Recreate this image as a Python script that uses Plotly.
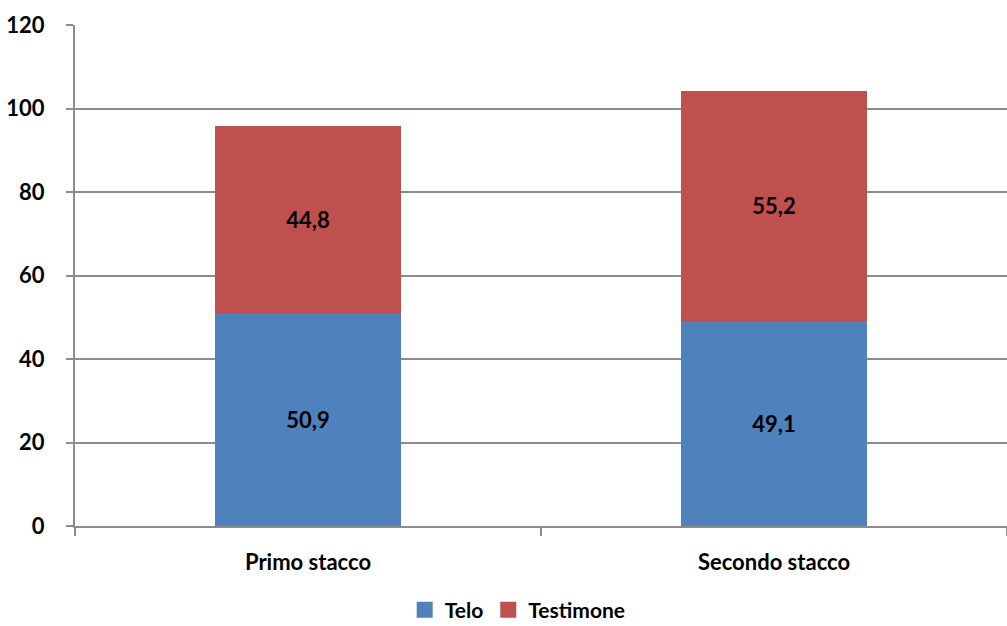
import plotly.graph_objects as go

categories = ["Primo stacco", "Secondo stacco"]
telo = [50.9, 49.1]
testimone = [44.8, 55.2]
y_ticks = [0, 20, 40, 60, 80, 100, 120]

series = [("Telo", telo, "#4F81BD"), ("Testimone", testimone, "#C0504D")]

FONT = "Lato, 'Open Sans', sans-serif"
GRID = "#8c8c8c"

fig = go.Figure()
for name, values, color in series:
    fig.add_trace(go.Bar(
        name=name, x=categories, y=values,
        marker=dict(color=color, line=dict(width=0)),
        texttemplate="%{y:.1f}", textposition="inside",
        insidetextanchor="middle",
        textfont=dict(family=FONT, size=22, color="black", weight="bold"),
        showlegend=False,
    ))
# legend entries with larger square swatches
for name, values, color in series:
    fig.add_trace(go.Scatter(
        name=name, x=[None], y=[None], mode="markers",
        marker=dict(symbol="square", size=16, color=color),
        showlegend=True,
    ))

fig.update_layout(
    barmode="stack",
    bargap=0.6,
    separators=",.",
    width=1007, height=626,
    margin=dict(l=75, r=0, t=25, b=100, autoexpand=False),
    paper_bgcolor="white", plot_bgcolor="white",
    font=dict(family=FONT, size=21, color="black"),
    legend=dict(
        orientation="h", x=0.475, xanchor="center", y=-0.168, yanchor="middle",
        font=dict(family=FONT, size=21, color="black", weight="bold"),
        itemwidth=30, traceorder="normal", tracegroupgap=0,
    ),
)
fig.update_xaxes(
    showline=True, linecolor=GRID, linewidth=2,
    ticks="outside", tickson="boundaries", ticklen=8, tickcolor=GRID, tickwidth=2,
    ticklabelstandoff=16,
    tickfont=dict(family=FONT, size=22, color="black", weight="bold"),
    showgrid=False,
)
fig.update_yaxes(
    range=[0, 120], tickvals=y_ticks,
    showline=True, linecolor=GRID, linewidth=2,
    showgrid=True, gridcolor=GRID, gridwidth=2,
    ticks="outside", ticklen=7, tickcolor=GRID, tickwidth=2,
    ticklabelstandoff=17,
    tickfont=dict(family=FONT, size=22, color="black", weight="bold"),
    zeroline=False,
)

fig.write_html("out.html")
